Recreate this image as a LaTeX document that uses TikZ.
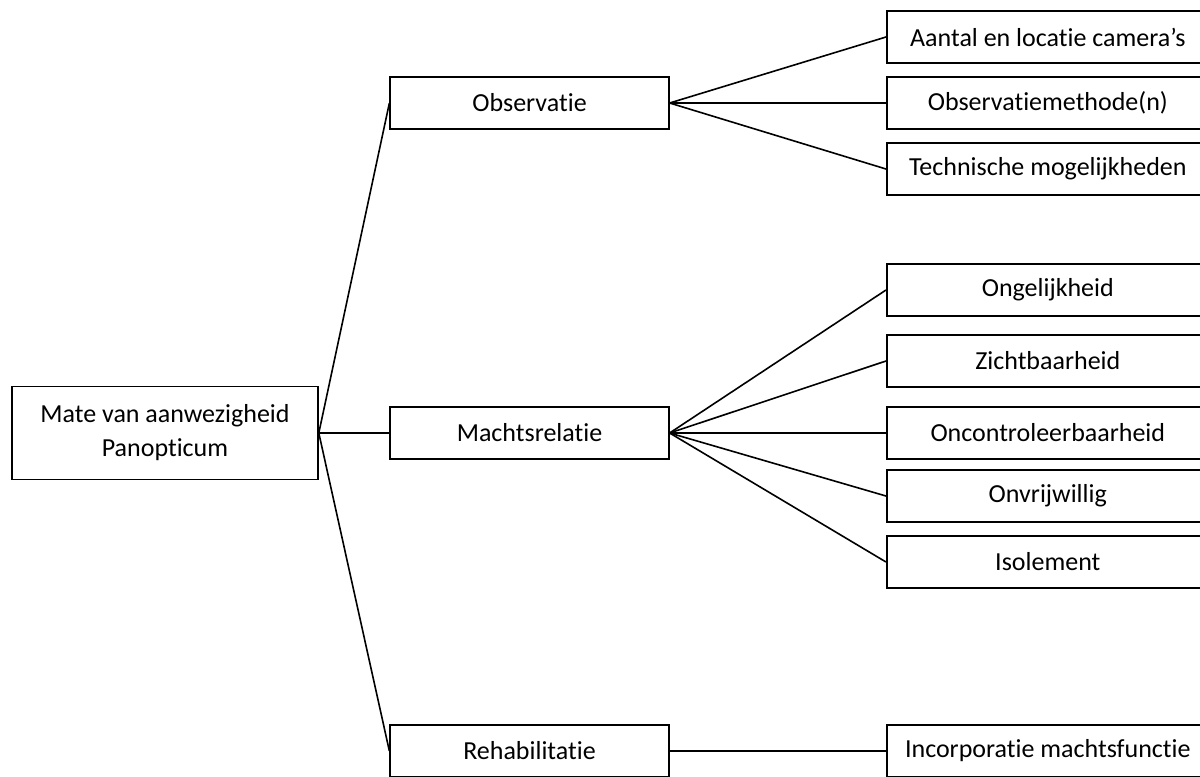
\documentclass[tikz,border=0pt]{standalone}
\usepackage{fontspec}
\setmainfont{Carlito}[Ligatures=NoCommon]
\tikzset{
  box/.style={draw,black,line width=1.2pt,inner sep=0pt,align=center,
    font=\fontsize{19.5}{25.5}\selectfont},
  midbox/.style={box,minimum width=209pt,minimum height=39pt},
  subbox/.style={box,anchor=west,minimum width=241.5pt,minimum height=39pt},
}
\begin{document}
\begin{tikzpicture}[x=0.75pt,y=-0.75pt]
\useasboundingbox (0,0) rectangle (1200,776);
\clip (0,0) rectangle (1200,776);
\node[box,minimum width=229.5pt,minimum height=69.75pt] (root) at (165,433) {Mate van aanwezigheid\\Panopticum};

\node[midbox] (obs) at (529.5,103) {Observatie};
\node[midbox] (macht) at (529.5,433) {Machtsrelatie};
\node[midbox] (rehab) at (529.5,751) {Rehabilitatie};

\node[subbox] (aantal) at (886,37) {Aantal en locatie camera’s};
\node[subbox] (methode) at (886,103) {Observatiemethode(n)};
\node[subbox] (techniek) at (886,169) {Technische mogelijkheden};
\node[subbox] (ongelijk) at (886,290) {Ongelijkheid};
\node[subbox] (zicht) at (886,361) {Zichtbaarheid};
\node[subbox] (oncontrole) at (886,433) {Oncontroleerbaarheid};
\node[subbox] (onvrij) at (886,496) {Onvrijwillig};
\node[subbox] (isolement) at (886,562) {Isolement};
\node[subbox] (incorp) at (886,751) {Incorporatie machtsfunctie};

\draw[line width=1.2pt] (root.east) -- (obs.west);
\draw[line width=1.2pt] (root.east) -- (macht.west);
\draw[line width=1.2pt] (root.east) -- (rehab.west);

\draw[line width=1.2pt] (obs.east) -- (aantal.west);
\draw[line width=1.2pt] (obs.east) -- (methode.west);
\draw[line width=1.2pt] (obs.east) -- (techniek.west);

\draw[line width=1.2pt] (macht.east) -- (ongelijk.west);
\draw[line width=1.2pt] (macht.east) -- (zicht.west);
\draw[line width=1.2pt] (macht.east) -- (oncontrole.west);
\draw[line width=1.2pt] (macht.east) -- (onvrij.west);
\draw[line width=1.2pt] (macht.east) -- (isolement.west);

\draw[line width=1.2pt] (rehab.east) -- (incorp.west);
\end{tikzpicture}
\end{document}
